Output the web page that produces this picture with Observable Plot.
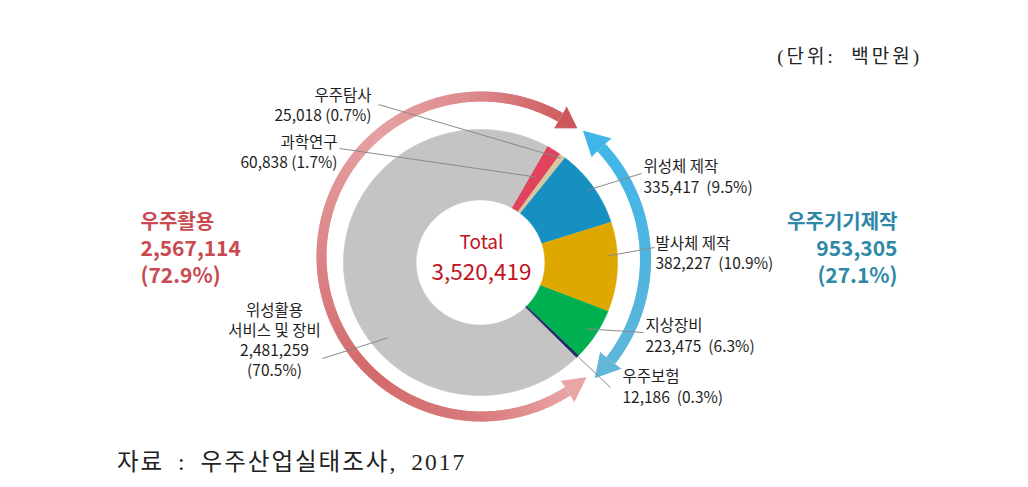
<!DOCTYPE html>
<html><head><meta charset="utf-8">
<script src="https://cdn.jsdelivr.net/npm/d3@7"></script>
<script src="https://cdn.jsdelivr.net/npm/@observablehq/plot@0.6"></script>
<style>
body{margin:0;background:#fff;}
#wrap{position:relative;width:1028px;}
#unit{position:absolute;top:45px;right:106px;line-height:24px;font-family:"Liberation Serif","Noto Sans CJK KR",serif;font-size:19px;letter-spacing:3px;color:#222;white-space:pre;}
#cap{height:47px;line-height:44px;padding-left:117px;font-family:"Liberation Serif","Noto Sans CJK KR",serif;font-size:23.5px;letter-spacing:2px;word-spacing:6px;color:#222;white-space:pre;}
</style></head><body>
<div id="wrap"><div id="chart"></div><div id="unit"></div></div>
<div id="cap"></div>
<script>
// ---- data ----
const categories = ["위성활용\n서비스 및 장비", "과학연구", "우주탐사", "위성체 제작", "발사체 제작", "지상장비", "우주보험"];
const values = [2481259, 60838, 25018, 335417, 382227, 223475, 12186];
const shares = [70.5, 1.7, 0.7, 9.5, 10.9, 6.3, 0.3];
const sliceColors = ["#c4c4c4", "#e0435b", "#d6c79f", "#1590c0", "#dfa800", "#00b050", "#1f2a66"];
const groupNames = ["우주활용", "우주기기제작"];
const groupValues = [2567114, 953305];
const groupShares = [72.9, 27.1];
const total = 3520419;
const unitNote = "(단위:  백만원)";
const source = "자료 : 우주산업실태조사, 2017";

// ---- layout (positions & styles) ----
const W = 1028, H = 440;
const D = {cx: 480, cy: 262, rx: 137, ry: 133, inner: 0.47, start: 135.5};
const labelLayout = [
  {tx: 274, ty: 339, anchor: "middle", sep: "\n", lx: 322, ly: 358, r: 0.88, angle: 230},
  {tx: 337, ty: 151, anchor: "end", sep: " ", lx: 339, ly: 148, r: 0.76},
  {tx: 371, ty: 104, anchor: "end", sep: " ", lx: 378, ly: 104, r: 0.98},
  {tx: 643, ty: 175.5, anchor: "start", sep: "  ", lx: 641, ly: 173, r: 0.95},
  {tx: 655, ty: 252, anchor: "start", sep: "  ", lx: 654, ly: 247, r: 0.93, angle: 87},
  {tx: 645, ty: 334.5, anchor: "start", sep: "  ", lx: 643, ly: 332, r: 0.92},
  {tx: 622, ty: 385.5, anchor: "start", sep: "  ", lx: 610, ly: 387, r: 1.0}
];
const groupLayout = [
  {x: 140, anchor: "start", color: "#c94a50"},
  {x: 897, anchor: "end", color: "#2f88a6"}
];
const groupLineY = [222, 249, 276];
const arrows = [
  {cx: 481, cy: 256, r: 160, w: 10, from: 147.4, to: 389.6, tipFrom: 139.3, tipTo: 396.5, half: 12,
   stops: [[147, "#e9a6a6"], [180, "#d97b7d"], [225, "#d36a6c"], [270, "#dc8486"], [320, "#e6a1a3"], [355, "#de8c8e"], [397, "#cc5558"]]},
  {cx: 481, cy: 259, r: 164, w: 11, from: 47, to: 128, tipFrom: 38.5, tipTo: 136, half: 13,
   stops: [[38, "#3fb6ea"], [90, "#4fb5e0"], [136, "#62b6d8"]]}
];

const rad = Math.PI / 180;
const ell = (a, r) => ({x: D.cx + D.rx * r * Math.sin(a * rad), y: D.cy - D.ry * r * Math.cos(a * rad)});
const circ = (c, a, r) => ({x: c.cx + r * Math.sin(a * rad), y: c.cy - r * Math.cos(a * rad)});
const fmt = d3.format(",");

// ---- pie geometry from values ----
const pie = d3.pie().sort(null).value(d => d.value)
  .startAngle(D.start * rad).endAngle(D.start * rad + 2 * Math.PI);
const slices = pie(categories.map((c, i) => ({name: c, value: values[i], share: shares[i], color: sliceColors[i], i})));
const slicePts = slices.flatMap(s => {
  const a0 = s.startAngle / rad, a1 = s.endAngle / rad;
  const n = Math.max(2, Math.ceil((a1 - a0) / 0.5));
  const pts = [];
  for (let k = 0; k <= n; k++) pts.push(ell(a0 + (a1 - a0) * k / n, 1));
  for (let k = n; k >= 0; k--) pts.push(ell(a0 + (a1 - a0) * k / n, D.inner));
  return pts.map(p => ({...p, name: s.data.name, color: s.data.color}));
});

// leaders & labels
const leaders = slices.map((s, i) => {
  const L = labelLayout[i];
  const mid = L.angle ?? ((s.startAngle + s.endAngle) / 2 / rad);
  const p = ell(mid, L.r);
  return {x1: p.x, y1: p.y, x2: L.lx, y2: L.ly};
});
const labels = slices.map((s, i) => {
  const L = labelLayout[i];
  return {x: L.tx, y: L.ty, anchor: L.anchor,
    text: s.data.name + "\n" + fmt(s.data.value) + L.sep + "(" + s.data.share.toFixed(1) + "%)"};
});

// arrows
const shaftSegs = [], heads = [];
arrows.forEach((ar, j) => {
  const col = d3.scaleLinear().domain(ar.stops.map(s => s[0])).range(ar.stops.map(s => s[1])).clamp(true);
  const n = Math.ceil(ar.to - ar.from);
  for (let k = 0; k < n; k++) {
    const a0 = ar.from + (ar.to - ar.from) * k / n, a1 = ar.from + (ar.to - ar.from) * (k + 1) / n;
    const p0 = circ(ar, Math.max(ar.from, a0 - 0.3), ar.r), p1 = circ(ar, Math.min(ar.to, a1 + 0.3), ar.r);
    shaftSegs.push({x1: p0.x, y1: p0.y, x2: p1.x, y2: p1.y, color: col((a0 + a1) / 2), w: ar.w});
  }
  [[ar.from, ar.tipFrom], [ar.to, ar.tipTo]].forEach(([b, t], h) => {
    const c = col(t);
    [circ(ar, b, ar.r - ar.half), circ(ar, t, ar.r), circ(ar, b, ar.r + ar.half)]
      .forEach(p => heads.push({...p, id: j + "-" + h, color: c}));
  });
});

// group labels
const groupTexts = groupNames.flatMap((g, i) => [
  {x: groupLayout[i].x, y: groupLineY[0], text: g, size: 20, anchor: groupLayout[i].anchor, color: groupLayout[i].color},
  {x: groupLayout[i].x, y: groupLineY[1], text: fmt(groupValues[i]), size: 21, anchor: groupLayout[i].anchor, color: groupLayout[i].color},
  {x: groupLayout[i].x, y: groupLineY[2], text: "(" + groupShares[i].toFixed(1) + "%)", size: 21, anchor: groupLayout[i].anchor, color: groupLayout[i].color}
]);

const FONT = "'Noto Sans CJK KR', 'Noto Sans', sans-serif";
const anchors = ["start", "middle", "end"];
const chart = Plot.plot({
  width: W, height: H, margin: 0,
  x: {domain: [0, W], range: [0, W], axis: null},
  y: {domain: [0, H], range: [0, H], axis: null},
  color: {type: "identity"},
  style: {fontFamily: FONT, background: "#fff"},
  marks: [
    Plot.line(slicePts, {x: "x", y: "y", z: "name", fill: "color", stroke: "color", strokeWidth: 0.6, curve: "linear"}),
    Plot.link(shaftSegs, {x1: "x1", y1: "y1", x2: "x2", y2: "y2", stroke: "color", strokeWidth: d => d.w, strokeLinecap: "butt"}),
    Plot.line(heads, {x: "x", y: "y", z: "id", fill: "color", stroke: "color", strokeWidth: 1, strokeLinejoin: "miter"}),
    Plot.link(leaders, {x1: "x1", y1: "y1", x2: "x2", y2: "y2", stroke: "#8a8a8a", strokeWidth: 1}),
    ...anchors.map(a => Plot.text(labels, {filter: d => d.anchor === a, x: "x", y: "y", text: "text", textAnchor: a,
      fontSize: 15.5, lineHeight: 1.3, fill: "#1e1e1e", fontFamily: FONT})),
    ...anchors.map(a => Plot.text(groupTexts, {filter: d => d.anchor === a, x: "x", y: "y", text: "text", textAnchor: a,
      fontSize: "size", fontWeight: "bold", fill: "color", fontFamily: FONT})),
    Plot.text([{t: "Total", y: 242, s: 19}, {t: fmt(total), y: 272, s: 22.5}],
      {x: () => D.cx + 1, y: "y", text: "t", fontSize: "s", fill: "#c0141e", fontFamily: FONT})
  ]
});
document.getElementById("chart").append(chart);
document.getElementById("unit").textContent = unitNote;
document.getElementById("cap").textContent = source;
</script>
</body></html>
